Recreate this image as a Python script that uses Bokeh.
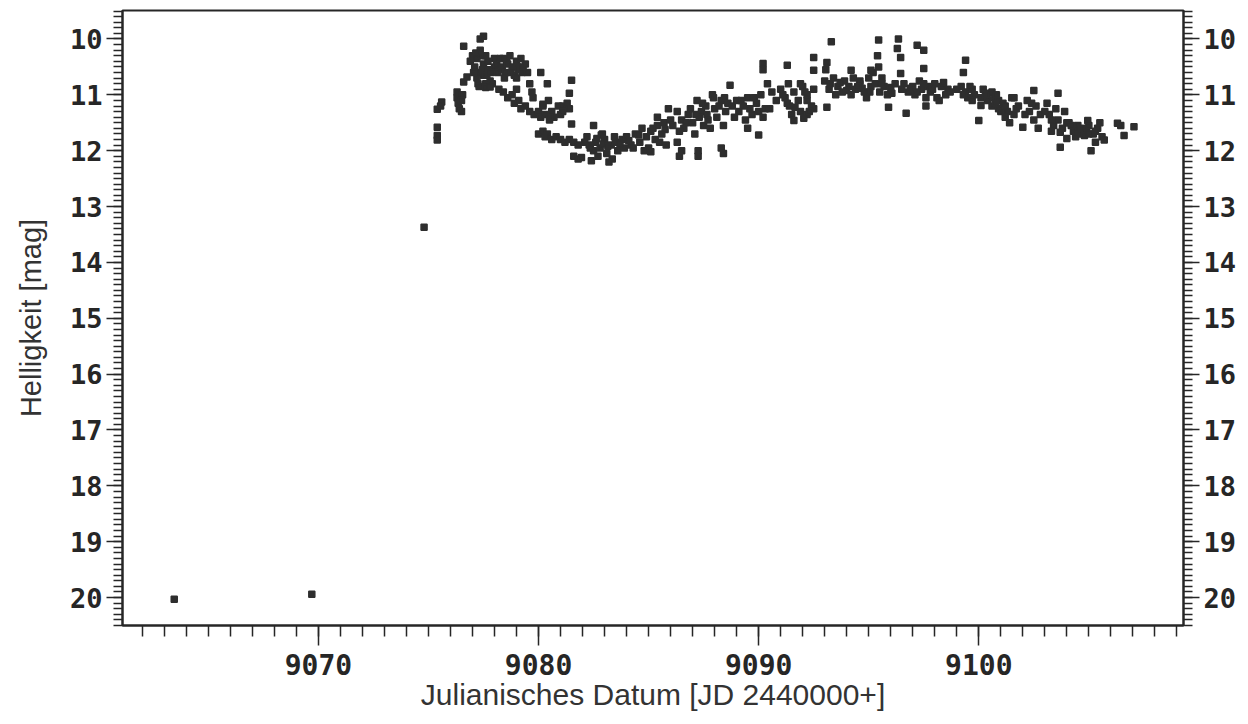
import numpy as np
from bokeh.plotting import figure
from bokeh.models import Range1d, LinearAxis, FixedTicker
from bokeh.embed import file_html
from bokeh.resources import INLINE

pre = [(9063.45, 20.03), (9069.7, 19.94), (9074.8, 13.37)]

rise = [(9075.4, 11.58), (9075.4, 11.73), (9075.4, 11.81), (9075.4, 11.26), (9075.6, 11.13),
        (9075.55, 11.2), (9076.3, 10.95), (9076.3, 11.05), (9076.35, 11.15), (9076.4, 11.25),
        (9076.5, 11.3), (9076.55, 11.0), (9076.5, 11.1), (9076.6, 10.77), (9076.75, 10.68),
        (9076.6, 10.13)]

peak = [(9077.35, 10.0), (9077.5, 9.95),
        (9076.9, 10.4), (9077.0, 10.3), (9077.1, 10.5), (9077.2, 10.35), (9077.3, 10.6),
        (9077.25, 10.8), (9077.4, 10.3), (9077.5, 10.45), (9077.5, 10.65), (9077.6, 10.3),
        (9077.7, 10.4), (9077.7, 10.55), (9077.8, 10.75), (9077.9, 10.8), (9077.2, 10.7),
        (9077.35, 10.2), (9077.6, 10.8), (9078.0, 10.5), (9078.0, 10.35),
        (9077.3, 10.85), (9077.6, 10.87), (9077.8, 10.86),
        (9077.05, 10.6), (9077.15, 10.25), (9077.45, 10.55), (9077.65, 10.65), (9077.85, 10.6),
        (9078.1, 10.45), (9078.15, 10.6), (9078.25, 10.35), (9078.55, 10.4), (9078.75, 10.6),
        (9079.05, 10.5), (9079.25, 10.6), (9078.35, 10.55),
        (9078.3, 10.5), (9078.4, 10.35), (9078.5, 10.6), (9078.6, 10.45), (9078.7, 10.3),
        (9078.8, 10.5), (9078.9, 10.65), (9079.0, 10.4), (9079.1, 10.55), (9079.2, 10.35),
        (9079.3, 10.5), (9079.4, 10.45), (9079.5, 10.6), (9078.45, 10.7), (9079.0, 10.7),
        (9079.6, 10.8), (9079.7, 10.95), (9079.75, 11.05), (9080.1, 10.6), (9080.4, 10.8),
        (9081.5, 10.74), (9081.4, 10.97)]

decline = [(9078.2, 10.9), (9078.4, 10.95), (9078.6, 11.05), (9078.8, 11.0), (9078.9, 11.15),
           (9079.1, 11.1), (9079.2, 11.25), (9079.4, 11.2), (9079.6, 11.3), (9079.8, 11.35),
           (9080.0, 11.3), (9080.1, 11.4), (9080.3, 11.35), (9080.5, 11.45), (9080.6, 11.3),
           (9080.2, 11.2), (9080.45, 11.1), (9080.7, 11.4), (9080.9, 11.2), (9081.0, 11.35),
           (9079.0, 10.9), (9081.1, 11.2), (9081.3, 11.15), (9081.4, 11.25), (9081.1, 11.3),
           (9080.2, 11.17), (9080.5, 11.4), (9081.5, 11.52),
           (9080.0, 11.7), (9080.2, 11.65), (9080.4, 11.7), (9080.6, 11.8), (9080.8, 11.75),
           (9081.0, 11.8), (9081.2, 11.85), (9081.4, 11.8), (9081.6, 11.85), (9081.8, 11.9),
           (9080.3, 11.75)]

trough = [(9081.6, 12.1), (9081.8, 12.15), (9081.95, 12.12),
          (9082.2, 11.75), (9082.3, 11.9), (9082.5, 12.0), (9082.6, 11.85), (9082.7, 12.1),
          (9082.8, 11.95), (9083.0, 11.8), (9083.1, 12.05), (9083.2, 12.2), (9083.3, 11.9),
          (9083.5, 11.85), (9083.6, 12.0), (9083.8, 11.8), (9083.9, 11.95), (9084.0, 11.75),
          (9084.2, 11.9), (9082.4, 12.18), (9083.35, 12.15), (9082.9, 11.7), (9082.5, 11.55),
          (9082.85, 11.72),
          (9084.4, 11.7), (9084.6, 11.85), (9084.7, 11.6), (9084.9, 11.75), (9085.0, 11.95),
          (9085.1, 11.65), (9085.3, 11.8), (9085.4, 11.55), (9085.6, 11.7), (9085.7, 11.5),
          (9085.8, 11.9), (9084.8, 12.0), (9085.1, 12.02), (9085.4, 11.4), (9085.9, 11.25),
          (9082.1, 11.85), (9082.35, 11.95), (9082.65, 11.78), (9082.95, 11.88), (9083.15, 11.92),
          (9083.45, 11.75), (9083.7, 11.88), (9084.1, 11.82), (9084.3, 11.95), (9084.55, 11.72),
          (9085.2, 11.6), (9085.5, 11.85), (9085.75, 11.62), (9086.0, 11.45), (9086.1, 11.55)]

recovery = [(9086.3, 11.3), (9086.5, 11.45), (9086.6, 11.6), (9086.8, 11.35), (9087.0, 11.5),
            (9087.1, 11.7), (9086.4, 11.65), (9087.3, 11.4),
            (9086.3, 11.85), (9086.5, 12.0), (9086.4, 12.1),
            (9087.2, 11.1), (9087.4, 11.3), (9087.6, 11.2), (9087.7, 11.45), (9087.9, 11.0),
            (9088.0, 11.25), (9088.1, 11.4), (9088.3, 11.1), (9088.4, 11.55), (9088.5, 11.3),
            (9088.6, 11.15), (9087.5, 11.55), (9087.8, 11.6),
            (9087.25, 12.0), (9087.25, 12.1), (9088.3, 11.95), (9088.4, 12.05), (9087.95, 11.05),
            (9088.7, 10.83),
            (9089.0, 11.1), (9089.1, 11.3), (9089.3, 11.2), (9089.5, 11.05), (9089.7, 11.35),
            (9089.9, 11.15), (9090.1, 11.0), (9090.3, 11.25), (9089.4, 11.45), (9090.2, 11.4),
            (9089.5, 11.6), (9090.0, 11.72), (9090.2, 10.44), (9090.2, 10.55),
            (9086.7, 11.5), (9086.9, 11.25), (9087.15, 11.35), (9087.45, 11.15), (9087.65, 11.35),
            (9088.2, 11.2), (9088.45, 11.05), (9088.8, 11.2), (9088.9, 11.4), (9089.2, 11.1),
            (9089.6, 11.25), (9089.8, 11.05), (9090.0, 11.3)]

plateau = [(9091.3, 10.47), (9091.35, 10.8),
           (9090.4, 10.8), (9090.6, 10.95), (9090.8, 11.1), (9091.0, 10.9), (9091.2, 11.05),
           (9091.4, 11.2), (9091.6, 10.95), (9091.8, 11.1), (9092.0, 10.85), (9092.2, 11.0),
           (9090.5, 11.25), (9091.9, 11.3),
           (9092.5, 10.33), (9091.65, 11.22), (9092.2, 11.35), (9092.5, 11.25),
           (9091.1, 11.0), (9091.3, 11.15), (9091.5, 11.35), (9091.6, 11.46), (9092.05, 11.42),
           (9091.9, 10.8), (9092.1, 10.95), (9092.2, 11.1), (9092.4, 11.2), (9092.5, 10.9),
           (9092.3, 11.3),
           (9093.1, 10.42), (9092.5, 10.56), (9093.05, 10.55), (9093.3, 10.05), (9093.1, 11.22),
           (9093.0, 10.75), (9093.2, 10.9), (9093.4, 10.7), (9093.6, 10.85), (9093.8, 10.95),
           (9093.9, 10.75), (9094.1, 10.85), (9094.3, 10.7), (9094.4, 10.9), (9094.6, 10.8),
           (9094.8, 10.95), (9095.0, 10.7), (9095.1, 10.85), (9093.5, 11.0), (9094.2, 11.0),
           (9094.9, 11.05), (9095.2, 10.6),
           (9094.2, 10.56), (9095.45, 10.02), (9095.4, 10.3), (9095.45, 10.5), (9095.1, 10.56),
           (9094.6, 10.75), (9094.7, 10.88), (9095.3, 10.8), (9095.5, 10.95), (9095.7, 10.85),
           (9095.85, 11.0), (9095.6, 10.7),
           (9095.9, 11.22), (9096.35, 10.0), (9096.3, 10.17), (9096.45, 10.33), (9096.45, 10.62),
           (9096.0, 10.87), (9096.05, 10.97),
           (9096.6, 10.8), (9096.8, 10.95), (9097.0, 10.85), (9097.1, 11.0), (9097.3, 10.75),
           (9097.4, 10.9), (9097.6, 11.05), (9097.7, 10.85), (9097.8, 10.95),
           (9097.2, 10.11), (9097.5, 10.2), (9097.5, 10.53), (9096.7, 11.33), (9097.6, 11.2),
           (9097.9, 10.9), (9098.1, 11.05), (9098.3, 10.85), (9098.5, 11.0), (9098.6, 10.9),
           (9098.2, 11.1), (9098.4, 10.78),
           (9099.4, 10.38), (9099.3, 10.6), (9099.2, 10.85), (9099.4, 10.95), (9099.5, 11.05),
           (9099.7, 10.9), (9099.3, 11.0), (9100.0, 11.46),
           (9093.25, 10.8), (9093.7, 10.78), (9094.0, 10.92), (9094.5, 10.85), (9095.05, 10.95),
           (9095.6, 10.8), (9096.2, 10.8), (9096.5, 10.9), (9096.9, 10.88), (9097.2, 10.95),
           (9097.5, 10.8), (9098.0, 10.8), (9098.7, 10.95), (9099.0, 10.9), (9099.6, 10.85)]

fade = [(9099.8, 11.0), (9100.1, 11.05), (9100.4, 10.97), (9100.7, 11.05), (9100.9, 11.1),
        (9100.1, 11.19), (9099.7, 11.1), (9100.2, 10.9), (9100.6, 10.95), (9100.8, 11.0),
        (9100.4, 11.1), (9100.6, 11.2), (9100.9, 11.25), (9101.1, 11.15), (9101.3, 11.3),
        (9101.5, 11.05),
        (9101.0, 11.3), (9101.2, 11.4), (9101.4, 11.5), (9101.6, 11.35), (9101.7, 11.25),
        (9101.6, 11.05), (9102.0, 11.58), (9102.5, 10.92),
        (9102.2, 11.1), (9102.3, 11.3), (9102.5, 11.45), (9102.6, 11.2), (9102.7, 11.6),
        (9102.8, 11.35),
        (9103.1, 11.15), (9103.2, 11.35), (9103.4, 11.55), (9103.5, 11.25), (9103.6, 11.45),
        (9103.8, 11.6), (9103.9, 11.3), (9104.0, 11.5), (9103.3, 11.65),
        (9103.6, 10.97), (9103.7, 11.94),
        (9104.1, 11.5), (9104.3, 11.65), (9104.5, 11.55), (9104.7, 11.7), (9104.9, 11.6),
        (9104.4, 11.75),
        (9105.1, 12.0), (9105.0, 11.55), (9105.2, 11.7), (9105.4, 11.6), (9105.6, 11.75),
        (9105.3, 11.85), (9105.5, 11.5),
        (9106.45, 11.55), (9106.6, 11.73), (9107.05, 11.57),
        (9103.7, 11.67), (9104.0, 11.78), (9104.5, 11.68), (9104.8, 11.73), (9104.95, 11.46),
        (9105.7, 11.81), (9106.3, 11.51),
        (9100.3, 11.0), (9100.75, 11.15), (9101.2, 11.2), (9101.8, 11.2), (9102.1, 11.35),
        (9102.4, 11.15), (9103.0, 11.3), (9103.3, 11.45), (9104.2, 11.55), (9104.6, 11.6),
        (9105.0, 11.7), (9105.3, 11.65)]

x_major = [9070, 9080, 9090, 9100]
y_major = [10, 11, 12, 13, 14, 15, 16, 17, 18, 19, 20]

segments = [pre, rise, peak, decline, trough, recovery, plateau, fade]
jd = [pt[0] for seg in segments for pt in seg]
mag = [pt[1] for seg in segments for pt in seg]

x_minor = list(range(9062, 9110))
y_minor = [round(9.5 + 0.1 * i, 1) for i in range(111)]

INK = "#262626"

p = figure(width=1240, height=716, output_backend="svg", toolbar_location=None,
           x_range=Range1d(9061.1, 9109.3), y_range=Range1d(20.5, 9.49),
           min_border_left=122, min_border_right=57, min_border_top=10, min_border_bottom=91,
           x_axis_label="Julianisches Datum [JD 2440000+]", y_axis_label="Helligkeit [mag]")
p.xgrid.visible = False
p.ygrid.visible = False
p.outline_line_color = INK
p.outline_line_width = 2
p.background_fill_color = "white"
p.border_fill_color = "white"

p.add_layout(LinearAxis(), "right")

tick_font = "DejaVu Sans Mono"
label_font = "Liberation Sans"

for ax in p.yaxis:
    ax.ticker = FixedTicker(ticks=y_major, minor_ticks=y_minor)
    ax.major_tick_out = 16
    ax.major_tick_in = 0
    ax.minor_tick_out = 9
    ax.minor_tick_in = 0
    ax.major_label_standoff = 4
    ax.axis_line_width = 2
    ax.axis_line_color = INK
    ax.major_tick_line_color = INK
    ax.minor_tick_line_color = INK
    ax.major_tick_line_width = 1.5
    ax.minor_tick_line_width = 1.5
    ax.major_label_text_font = tick_font
    ax.major_label_text_font_style = "bold"
    ax.major_label_text_font_size = "27px"
    ax.major_label_text_color = INK

yl = p.yaxis[0]
yl.axis_label_text_font = label_font
yl.axis_label_text_font_style = "normal"
yl.axis_label_text_font_size = "29px"
yl.axis_label_text_color = "#333333"
yl.axis_label_standoff = 20

xa = p.xaxis[0]
xa.ticker = FixedTicker(ticks=x_major, minor_ticks=x_minor)
xa.major_tick_out = 20
xa.major_tick_in = 0
xa.minor_tick_out = 11
xa.minor_tick_in = 0
xa.major_label_standoff = 8
xa.axis_line_width = 2
xa.axis_line_color = INK
xa.major_tick_line_color = INK
xa.minor_tick_line_color = INK
xa.major_tick_line_width = 1.5
xa.minor_tick_line_width = 1.5
xa.major_label_text_font = tick_font
xa.major_label_text_font_style = "bold"
xa.major_label_text_font_size = "28px"
xa.major_label_text_color = INK
xa.axis_label_text_font = label_font
xa.axis_label_text_font_style = "normal"
xa.axis_label_text_font_size = "30px"
xa.axis_label_text_color = "#333333"
xa.axis_label_standoff = 0

p.scatter(jd, mag, marker="square", size=6, fill_color="#2e2e2e",
          line_color="#2e2e2e", line_width=1.5)

open("out.html", "w").write(file_html(p, INLINE))
